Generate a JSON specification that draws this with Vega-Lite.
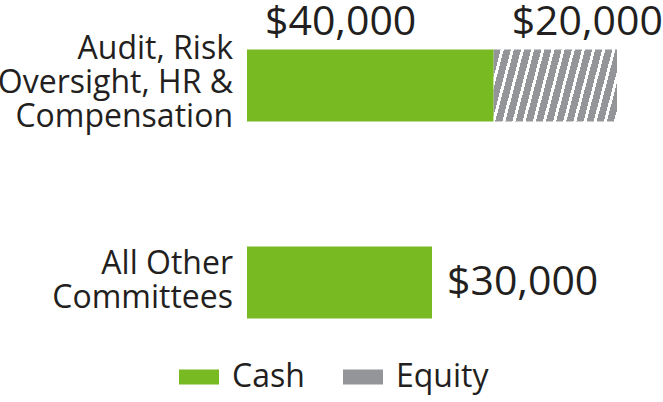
{
  "$schema": "https://vega.github.io/schema/vega-lite/v6.json",
  "autosize": "none",
  "width": 370,
  "height": 348,
  "padding": {"left": 247, "top": 10, "right": 46, "bottom": 44},
  "config": {"view": {"stroke": null}, "font": "Open Sans"},
  "data": {
    "values": [
      {"committee": "Audit, Risk|Oversight, HR &|Compensation", "type": "Cash", "amount": 40000, "label": "$40,000"},
      {"committee": "Audit, Risk|Oversight, HR &|Compensation", "type": "Equity", "amount": 20000, "label": "$20,000"},
      {"committee": "All Other|Committees", "type": "Cash", "amount": 30000, "label": "$30,000"}
    ]
  },
  "transform": [
    {"stack": "amount", "groupby": ["committee"], "sort": [{"field": "type", "order": "ascending"}], "as": ["x0", "x1"]}
  ],
  "encoding": {
    "y": {
      "field": "committee",
      "type": "nominal",
      "sort": ["Audit, Risk|Oversight, HR &|Compensation", "All Other|Committees"],
      "scale": {"paddingInner": 0.635, "paddingOuter": 0.2},
      "axis": null
    }
  },
  "layer": [
    {
      "mark": {"type": "bar"},
      "encoding": {
        "x": {"field": "x0", "type": "quantitative", "scale": {"domain": [0, 60000]}, "axis": null},
        "x2": {"field": "x1"},
        "color": {
          "field": "type",
          "type": "nominal",
          "scale": {"domain": ["Cash", "Equity"], "range": ["#78ba22", "#939598"]},
          "condition": {
            "test": "datum.type === 'Equity'",
            "value": {
              "gradient": "linear", "x1": 0, "y1": 0, "x2": 1.1261, "y2": 0.1714,
              "stops": [
                {"offset": 0, "color": "#939598"}, {"offset": 0.05, "color": "#939598"}, {"offset": 0.05, "color": "#ffffff"}, {"offset": 0.0714, "color": "#ffffff"},
                {"offset": 0.0714, "color": "#939598"}, {"offset": 0.1214, "color": "#939598"}, {"offset": 0.1214, "color": "#ffffff"}, {"offset": 0.1429, "color": "#ffffff"},
                {"offset": 0.1429, "color": "#939598"}, {"offset": 0.1929, "color": "#939598"}, {"offset": 0.1929, "color": "#ffffff"}, {"offset": 0.2143, "color": "#ffffff"},
                {"offset": 0.2143, "color": "#939598"}, {"offset": 0.2643, "color": "#939598"}, {"offset": 0.2643, "color": "#ffffff"}, {"offset": 0.2857, "color": "#ffffff"},
                {"offset": 0.2857, "color": "#939598"}, {"offset": 0.3357, "color": "#939598"}, {"offset": 0.3357, "color": "#ffffff"}, {"offset": 0.3571, "color": "#ffffff"},
                {"offset": 0.3571, "color": "#939598"}, {"offset": 0.4071, "color": "#939598"}, {"offset": 0.4071, "color": "#ffffff"}, {"offset": 0.4286, "color": "#ffffff"},
                {"offset": 0.4286, "color": "#939598"}, {"offset": 0.4786, "color": "#939598"}, {"offset": 0.4786, "color": "#ffffff"}, {"offset": 0.5, "color": "#ffffff"},
                {"offset": 0.5, "color": "#939598"}, {"offset": 0.55, "color": "#939598"}, {"offset": 0.55, "color": "#ffffff"}, {"offset": 0.5714, "color": "#ffffff"},
                {"offset": 0.5714, "color": "#939598"}, {"offset": 0.6214, "color": "#939598"}, {"offset": 0.6214, "color": "#ffffff"}, {"offset": 0.6429, "color": "#ffffff"},
                {"offset": 0.6429, "color": "#939598"}, {"offset": 0.6929, "color": "#939598"}, {"offset": 0.6929, "color": "#ffffff"}, {"offset": 0.7143, "color": "#ffffff"},
                {"offset": 0.7143, "color": "#939598"}, {"offset": 0.7643, "color": "#939598"}, {"offset": 0.7643, "color": "#ffffff"}, {"offset": 0.7857, "color": "#ffffff"},
                {"offset": 0.7857, "color": "#939598"}, {"offset": 0.8357, "color": "#939598"}, {"offset": 0.8357, "color": "#ffffff"}, {"offset": 0.8571, "color": "#ffffff"},
                {"offset": 0.8571, "color": "#939598"}, {"offset": 0.9071, "color": "#939598"}, {"offset": 0.9071, "color": "#ffffff"}, {"offset": 0.9286, "color": "#ffffff"},
                {"offset": 0.9286, "color": "#939598"}, {"offset": 0.9786, "color": "#939598"}, {"offset": 0.9786, "color": "#ffffff"}, {"offset": 1, "color": "#ffffff"}
              ]
            }
          },
          "legend": {
            "title": null,
            "orient": "none",
            "direction": "horizontal",
            "legendX": -68,
            "legendY": 347,
            "padding": 0,
            "symbolType": "M-1,-0.375H1V0.375H-1Z",
            "symbolSize": 1600,
            "symbolStrokeWidth": 0,
            "labelFont": "Open Sans",
            "labelFontSize": 32,
            "labelColor": "#231f20",
            "labelOffset": 13,
            "columnPadding": 38,
            "labelLimit": 0
          }
        }
      }
    },
    {
      "transform": [{"filter": "datum.committee === 'Audit, Risk|Oversight, HR &|Compensation' && datum.type === 'Cash'"}],
      "mark": {"type": "text", "align": "right", "baseline": "middle", "dx": -14, "dy": -36, "lineBreak": "|", "lineHeight": 34, "fontSize": 32, "font": "Open Sans", "color": "#231f20"},
      "encoding": {
        "x": {"datum": 0, "type": "quantitative"},
        "text": {"field": "committee"}
      }
    },
    {
      "transform": [{"filter": "datum.committee === 'All Other|Committees'"}],
      "mark": {"type": "text", "align": "right", "baseline": "middle", "dx": -14, "dy": -19, "lineBreak": "|", "lineHeight": 34, "fontSize": 32, "font": "Open Sans", "color": "#231f20"},
      "encoding": {
        "x": {"datum": 0, "type": "quantitative"},
        "text": {"field": "committee"}
      }
    },
    {
      "transform": [{"filter": "datum.committee === 'Audit, Risk|Oversight, HR &|Compensation'"}],
      "mark": {"type": "text", "align": "left", "baseline": "alphabetic", "dx": 18, "dy": -50, "fontSize": 41, "font": "Open Sans", "color": "#231f20"},
      "encoding": {
        "x": {"field": "x0", "type": "quantitative"},
        "text": {"field": "label"}
      }
    },
    {
      "transform": [{"filter": "datum.committee === 'All Other|Committees'"}],
      "mark": {"type": "text", "align": "left", "baseline": "middle", "dx": 15, "fontSize": 41, "font": "Open Sans", "color": "#231f20"},
      "encoding": {
        "x": {"field": "x1", "type": "quantitative"},
        "text": {"field": "label"}
      }
    }
  ]
}
